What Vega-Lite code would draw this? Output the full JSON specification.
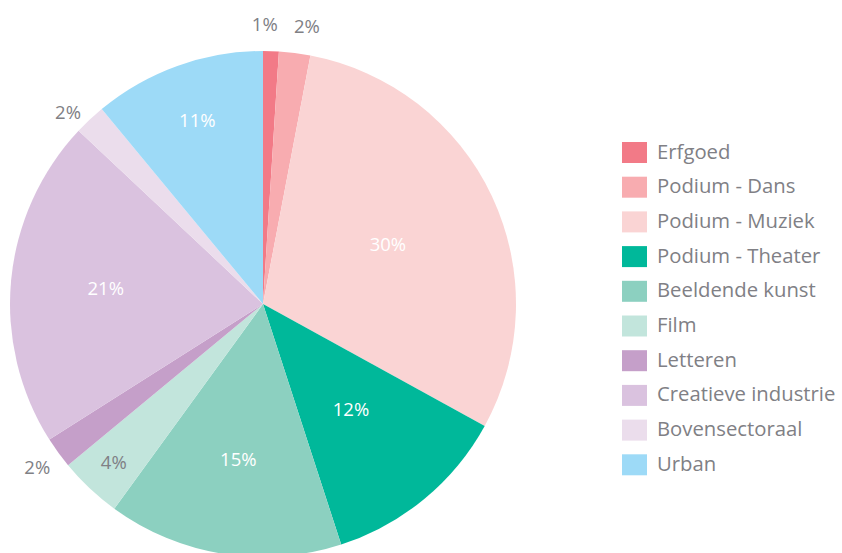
{
  "$schema": "https://vega.github.io/schema/vega-lite/v6.json",
  "width": 526,
  "height": 608,
  "autosize": {"type": "none"},
  "padding": {"left": 0, "top": 0, "right": 316, "bottom": 0},
  "background": "white",
  "config": {"view": {"stroke": null}, "font": "Open Sans"},
  "data": {"values": [
    {"idx": 1, "cat": "Erfgoed", "v": 1, "label": "1%"},
    {"idx": 2, "cat": "Podium - Dans", "v": 2, "label": "2%"},
    {"idx": 3, "cat": "Podium - Muziek", "v": 30, "label": "30%"},
    {"idx": 4, "cat": "Podium - Theater", "v": 12, "label": "12%"},
    {"idx": 5, "cat": "Beeldende kunst", "v": 15, "label": "15%"},
    {"idx": 6, "cat": "Film", "v": 4, "label": "4%"},
    {"idx": 7, "cat": "Letteren", "v": 2, "label": "2%"},
    {"idx": 8, "cat": "Creatieve industrie", "v": 21, "label": "21%"},
    {"idx": 9, "cat": "Bovensectoraal", "v": 2, "label": "2%"},
    {"idx": 10, "cat": "Urban", "v": 11, "label": "11%"}
  ]},
  "encoding": {
    "theta": {"field": "v", "type": "quantitative", "stack": true},
    "order": {"field": "idx", "type": "quantitative"}
  },
  "layer": [
    {
      "mark": {"type": "arc", "outerRadius": 253},
      "encoding": {
        "color": {
          "field": "cat", "type": "nominal",
          "scale": {
            "domain": ["Erfgoed", "Podium - Dans", "Podium - Muziek", "Podium - Theater", "Beeldende kunst", "Film", "Letteren", "Creatieve industrie", "Bovensectoraal", "Urban"],
            "range": ["#F27A87", "#F8ACB0", "#FAD4D4", "#00B89A", "#8CD0C0", "#C2E5DC", "#C59FC9", "#DAC2DF", "#EBDDEC", "#9DDAF7"]
          },
          "legend": {
            "title": null,
            "orient": "none",
            "legendX": 622,
            "legendY": 140,
            "symbolType": "M-1,-0.84H1V0.84H-1Z",
            "symbolSize": 625,
            "symbolStrokeWidth": 0,
            "symbolOpacity": 1,
            "labelFontSize": 20.3,
            "labelColor": "#808085",
            "labelFont": "Open Sans",
            "labelOffset": 10,
            "rowPadding": 11.7,
            "labelLimit": 300
          }
        }
      }
    },
    {
      "mark": {"type": "text", "radius": 138, "fontSize": 18.5, "fill": "white"},
      "encoding": {
        "text": {"field": "label", "type": "nominal"},
        "opacity": {"condition": {"test": "datum.cat == 'Podium - Muziek' || datum.cat == 'Podium - Theater'", "value": 1}, "value": 0}
      }
    },
    {
      "mark": {"type": "text", "radius": 158, "fontSize": 18.5, "fill": "white"},
      "encoding": {
        "text": {"field": "label", "type": "nominal"},
        "opacity": {"condition": {"test": "datum.cat == 'Beeldende kunst' || datum.cat == 'Creatieve industrie'", "value": 1}, "value": 0}
      }
    },
    {
      "mark": {"type": "text", "radius": 194, "fontSize": 18.5, "fill": "white"},
      "encoding": {
        "text": {"field": "label", "type": "nominal"},
        "opacity": {"condition": {"test": "datum.cat == 'Urban'", "value": 1}, "value": 0}
      }
    },
    {
      "mark": {"type": "text", "radius": 218, "fontSize": 18.5, "fill": "#808085"},
      "encoding": {
        "text": {"field": "label", "type": "nominal"},
        "opacity": {"condition": {"test": "datum.cat == 'Film'", "value": 1}, "value": 0}
      }
    },
    {
      "mark": {"type": "text", "radius": 279, "fontSize": 18.5, "fill": "#808085"},
      "encoding": {
        "text": {"field": "label", "type": "nominal"},
        "opacity": {"condition": {"test": "datum.cat == 'Letteren'", "value": 1}, "value": 0}
      }
    },
    {
      "mark": {"type": "text", "radius": 279, "fontSize": 18.5, "fill": "#808085", "dx": -4, "dy": 12},
      "encoding": {
        "text": {"field": "label", "type": "nominal"},
        "opacity": {"condition": {"test": "datum.cat == 'Bovensectoraal'", "value": 1}, "value": 0}
      }
    },
    {
      "mark": {"type": "text", "radius": 279, "fontSize": 18.5, "fill": "#808085", "dx": -7},
      "encoding": {
        "text": {"field": "label", "type": "nominal"},
        "opacity": {"condition": {"test": "datum.cat == 'Erfgoed'", "value": 1}, "value": 0}
      }
    },
    {
      "mark": {"type": "text", "radius": 279, "fontSize": 18.5, "fill": "#808085", "dx": 9},
      "encoding": {
        "text": {"field": "label", "type": "nominal"},
        "opacity": {"condition": {"test": "datum.cat == 'Podium - Dans'", "value": 1}, "value": 0}
      }
    }
  ]
}
